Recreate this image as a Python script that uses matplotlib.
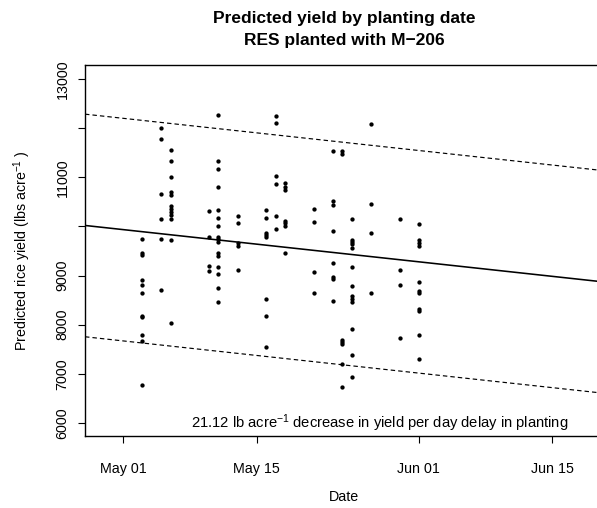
import numpy as np
import matplotlib
matplotlib.use("Agg")
import matplotlib.pyplot as plt
import matplotlib.dates as mdates

# ---------------- data ----------------
planting_dates = ["2012-05-03", "2012-05-05", "2012-05-06", "2012-05-10", "2012-05-11",
                  "2012-05-13", "2012-05-16", "2012-05-17", "2012-05-18", "2012-05-21",
                  "2012-05-23", "2012-05-24", "2012-05-25", "2012-05-27", "2012-05-30",
                  "2012-06-01"]

yields_may03 = [9747, 9449, 9415, 8906, 8798, 8655, 8187, 8152, 7800, 7663, 6773]
yields_may05 = [11996, 11778, 10664, 10142, 9747, 8702]
yields_may06 = [11548, 11336, 10998, 10698, 10637, 10413, 10352, 10291, 10230, 10142, 9715, 8030]
yields_may10 = [10321, 9778, 9191, 9095]
yields_may11 = [12261, 11336, 11167, 10794, 10338, 10169, 9999, 9788, 9741, 9686,
                9449, 9400, 9176, 9034, 8749, 8472]
yields_may13 = [10203, 10067, 9653, 9608, 9103]
yields_may16 = [10338, 10169, 9869, 9828, 9782, 8525, 8172, 7547]
yields_may17 = [12246, 12098, 11018, 10855, 10215, 9951]
yields_may18 = [10875, 10806, 10739, 10107, 10061, 10012, 9462]
yields_may21 = [10346, 10093, 9075, 8655]
yields_may23 = [11533, 10515, 10433, 9910, 9246, 8973, 8932, 8492]
yields_may24 = [11533, 11472, 7698, 7649, 7602, 7209, 6732]
yields_may25 = [10142, 9721, 9680, 9639, 9551, 9177, 8789, 8580, 8525, 8464, 7922, 7378, 6936]
yields_may27 = [12077, 10448, 9857, 8635]
yields_may30 = [10142, 9109, 8818, 7738]
yields_jun01 = [10040, 9720, 9670, 9598, 8859, 8688, 8635, 8329, 8284, 7799, 7311]

yields_by_date = [yields_may03, yields_may05, yields_may06, yields_may10, yields_may11,
                  yields_may13, yields_may16, yields_may17, yields_may18, yields_may21,
                  yields_may23, yields_may24, yields_may25, yields_may27, yields_may30,
                  yields_jun01]

fit_ref_date = "2012-05-01"
fit_intercept = 9935.0       # predicted yield on May 01
fit_slope = -21.12           # lb acre^-1 per day
band_halfwidth = 2265.0      # dashed interval half-width

x_tick_dates = ["2012-05-01", "2012-05-15", "2012-06-01", "2012-06-15"]
y_ticks = [6000, 7000, 8000, 9000, 10000, 11000, 12000, 13000]
y_tick_labels = ["6000", "7000", "8000", "9000", "", "11000", "", "13000"]
x_limits = ["2012-04-26 23:50", "2012-06-20 10:50"]
y_limits = [5735, 13285]

# ---------------- style ----------------
plt.rcParams['font.family'] = ['Liberation Sans', 'DejaVu Sans']
plt.rcParams['mathtext.fontset'] = 'custom'
plt.rcParams['mathtext.rm'] = 'Liberation Sans'
plt.rcParams['mathtext.it'] = 'Liberation Sans:italic'
plt.rcParams['mathtext.bf'] = 'Liberation Sans:bold'
plt.rcParams['lines.scale_dashes'] = False

W, H = 597, 508
fig = plt.figure(figsize=(W / 100, H / 100), dpi=100)
ax_left, ax_right, ax_top, ax_bottom = 85, 604, 65, 436
ax = fig.add_axes([ax_left / W, 1 - ax_bottom / H,
                   (ax_right - ax_left) / W, (ax_bottom - ax_top) / H])

# points
for d, ys in zip(planting_dates, yields_by_date):
    xs = np.array([np.datetime64(d)] * len(ys))
    ax.plot(xs, ys, linestyle='none', marker='o', markersize=3.1,
            color='black', markeredgewidth=0)

# regression line and interval
xl = np.array([np.datetime64(x_limits[0]), np.datetime64(x_limits[1])])
days = (xl - np.datetime64(fit_ref_date)) / np.timedelta64(1, 'D')
fit = fit_intercept + fit_slope * days
ax.plot(xl, fit, color='black', linewidth=1.15, solid_capstyle='butt')
ax.plot(xl, fit + band_halfwidth, color='black', linewidth=0.85, dashes=(3.2, 2.2))
ax.plot(xl, fit - band_halfwidth, color='black', linewidth=0.85, dashes=(3.2, 2.2))

ax.set_xlim(xl[0], xl[1])
ax.set_ylim(*y_limits)

ax.set_xticks([np.datetime64(d) for d in x_tick_dates])
ax.xaxis.set_major_formatter(mdates.DateFormatter('%b %d'))
ax.set_yticks(y_ticks)
ax.set_yticklabels(y_tick_labels, rotation=90, va='center')

ax.tick_params(axis='both', direction='out', length=5, width=0.8,
               labelsize=10.3, colors='black')
ax.tick_params(axis='x', pad=14)
ax.tick_params(axis='y', pad=6)
for s in ax.spines.values():
    s.set_linewidth(1.0)
    s.set_color('black')

ax.text((380 - ax_left) / (ax_right - ax_left), (ax_bottom - 423) / (ax_bottom - ax_top),
        r"21.12 lb acre$^{-1}$ decrease in yield per day delay in planting",
        transform=ax.transAxes, ha='center', va='center', fontsize=10.65)

# titles and axis labels
fig.text(344.5 / W, 1 - 19 / H, "Predicted yield by planting date",
         ha='center', va='center', fontsize=12.5, fontweight='bold')
fig.text(344.5 / W, 1 - 41 / H, "RES planted with M\u2212206",
         ha='center', va='center', fontsize=12.5, fontweight='bold')
fig.text(344.5 / W, 1 - 497 / H, "Date", ha='center', va='center', fontsize=10.3)
fig.text(22 / W, 1 - 251 / H, r"Predicted rice yield (lbs acre$^{-1}$ )",
         ha='center', va='center', rotation=90, fontsize=10.3)

fig.savefig("out.png", dpi=100, facecolor='white')
